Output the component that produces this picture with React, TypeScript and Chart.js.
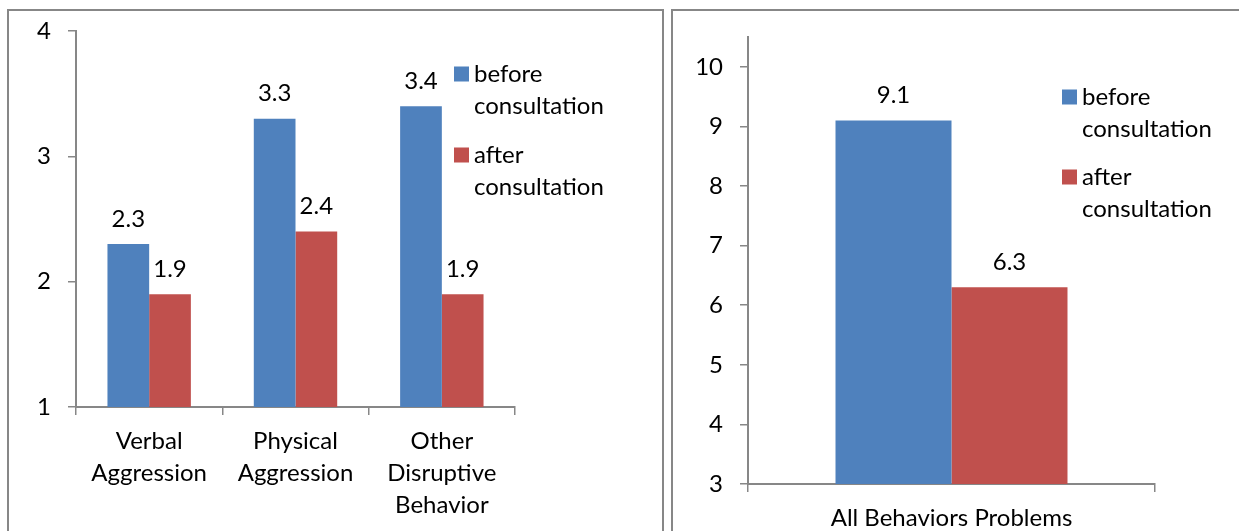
import React, { useEffect, useRef } from "react";
import { Chart, registerables } from "chart.js";

Chart.register(...registerables);

// ---------- data ----------
const leftCategories = [
  ["Verbal", "Aggression"],
  ["Physical", "Aggression"],
  ["Other", "Disruptive", "Behavior"],
];
const leftBefore = [2.3, 3.3, 3.4];
const leftAfter = [1.9, 2.4, 1.9];
const leftTickValues = [1, 2, 3, 4];

const rightCategories = ["All Behaviors Problems"];
const rightBefore = [9.1];
const rightAfter = [6.3];
const rightTickValues = [3, 4, 5, 6, 7, 8, 9, 10];

const seriesNames = ["before consultation", "after consultation"];

// ---------- styles ----------
const BLUE = "#4F81BD";
const RED = "#C0504D";
const AXIS = "#878787";
const FONT = "Lato, 'Open Sans', sans-serif";
const FONT_SIZE = 24;

const valueLabels = {
  id: "valueLabels",
  afterDatasetsDraw(chart: any) {
    const ctx = chart.ctx;
    ctx.save();
    ctx.font = `${FONT_SIZE}px ${FONT}`;
    ctx.fillStyle = "#000";
    ctx.textAlign = "center";
    ctx.textBaseline = "middle";
    chart.data.datasets.forEach((ds: any, i: number) => {
      const meta = chart.getDatasetMeta(i);
      meta.data.forEach((el: any, j: number) => {
        const v = ds.data[j];
        ctx.fillText(Number(v).toFixed(1), el.x, el.y - 25);
      });
    });
    ctx.restore();
  },
};

const sideLegend = {
  id: "sideLegend",
  afterDraw(chart: any, _args: any, opts: any) {
    const ctx = chart.ctx;
    ctx.save();
    ctx.font = `${FONT_SIZE}px ${FONT}`;
    ctx.textAlign = "left";
    ctx.textBaseline = "middle";
    chart.data.datasets.forEach((ds: any, i: number) => {
      const y0 = opts.y[i];
      const label: string = ds.label;
      const sp = label.indexOf(" ");
      const lines = sp > 0 ? [label.slice(0, sp), label.slice(sp + 1)] : [label];
      ctx.fillStyle = ds.backgroundColor;
      ctx.fillRect(opts.x, y0 - 7.5, 15, 15);
      ctx.fillStyle = "#000";
      lines.forEach((ln, k) => ctx.fillText(ln, opts.x + 20, y0 + k * 32));
    });
    ctx.restore();
  },
};

function makeConfig(
  labels: any[],
  before: number[],
  after: number[],
  ticks: number[],
  min: number,
  max: number,
  geo: { yWidth: number; xHeight: number; top: number; right: number; catPct: number; legendX: number; legendY: number[] }
): any {
  return {
    type: "bar",
    data: {
      labels,
      datasets: [
        { label: seriesNames[0], data: before, backgroundColor: BLUE, borderWidth: 0 },
        { label: seriesNames[1], data: after, backgroundColor: RED, borderWidth: 0 },
      ],
    },
    options: {
      responsive: false,
      animation: false,
      devicePixelRatio: 1,
      layout: { padding: { top: geo.top, right: geo.right, left: 0, bottom: 0 } },
      datasets: { bar: { categoryPercentage: geo.catPct, barPercentage: 1 } },
      plugins: {
        legend: { display: false },
        tooltip: { enabled: false },
        sideLegend: { x: geo.legendX, y: geo.legendY },
      },
      scales: {
        x: {
          offset: true,
          grid: { display: true, drawOnChartArea: false, drawTicks: true, tickLength: 8, color: AXIS, lineWidth: 1.5, offset: true },
          border: { display: true, color: AXIS, width: 2 },
          ticks: {
            color: "#000",
            padding: 10,
            maxRotation: 0,
            autoSkip: false,
            font: { family: FONT, size: FONT_SIZE, lineHeight: "32px" },
          },
          afterFit(scale: any) {
            scale.height = geo.xHeight;
            scale.paddingLeft = 0;
            scale.paddingRight = 0;
          },
        },
        y: {
          min,
          max,
          grid: { display: true, drawOnChartArea: false, drawTicks: true, tickLength: 8, color: AXIS, lineWidth: 1.5 },
          border: { display: true, color: AXIS, width: 2 },
          ticks: {
            color: "#000",
            padding: 17,
            font: { family: FONT, size: FONT_SIZE },
          },
          afterBuildTicks(scale: any) {
            scale.ticks = ticks.map((v) => ({ value: v }));
          },
          afterFit(scale: any) {
            scale.width = geo.yWidth;
            scale.paddingTop = 0;
            scale.paddingBottom = 0;
          },
        },
      },
    },
    plugins: [valueLabels, sideLegend],
  };
}

function ChartCanvas({ config, width, height }: { config: any; width: number; height: number }) {
  const ref = useRef<HTMLCanvasElement | null>(null);
  useEffect(() => {
    if (!ref.current) return;
    const chart = new Chart(ref.current, config);
    return () => chart.destroy();
  }, []);
  return <canvas ref={ref} width={width} height={height} style={{ display: "block", width, height }} />;
}

export default function App() {
  const leftConfig = makeConfig(leftCategories, leftBefore, leftAfter, leftTickValues, 1, 4, {
    yWidth: 67,
    xHeight: 124,
    top: 20,
    right: 147,
    catPct: 0.57,
    legendX: 445,
    legendY: [63, 144],
  });
  const rightConfig = makeConfig(rightCategories, rightBefore, rightAfter, rightTickValues, 3, 10.5, {
    yWidth: 75,
    xHeight: 47,
    top: 26,
    right: 84,
    catPct: 0.57,
    legendX: 389,
    legendY: [86, 166],
  });

  return (
    <div
      style={{
        position: "fixed",
        left: 0,
        top: 0,
        width: 1239,
        height: 531,
        overflow: "hidden",
        background: "#fff",
      }}
    >
      <div
        style={{
          position: "absolute",
          left: 7,
          top: 9,
          width: 653,
          height: 560,
          border: `2px solid ${AXIS}`,
          boxSizing: "content-box",
        }}
      >
        <ChartCanvas config={leftConfig} width={653} height={520} />
      </div>
      <div
        style={{
          position: "absolute",
          left: 671,
          top: 9,
          width: 600,
          height: 560,
          border: `2px solid ${AXIS}`,
          boxSizing: "content-box",
        }}
      >
        <ChartCanvas config={rightConfig} width={566} height={520} />
      </div>
    </div>
  );
}
